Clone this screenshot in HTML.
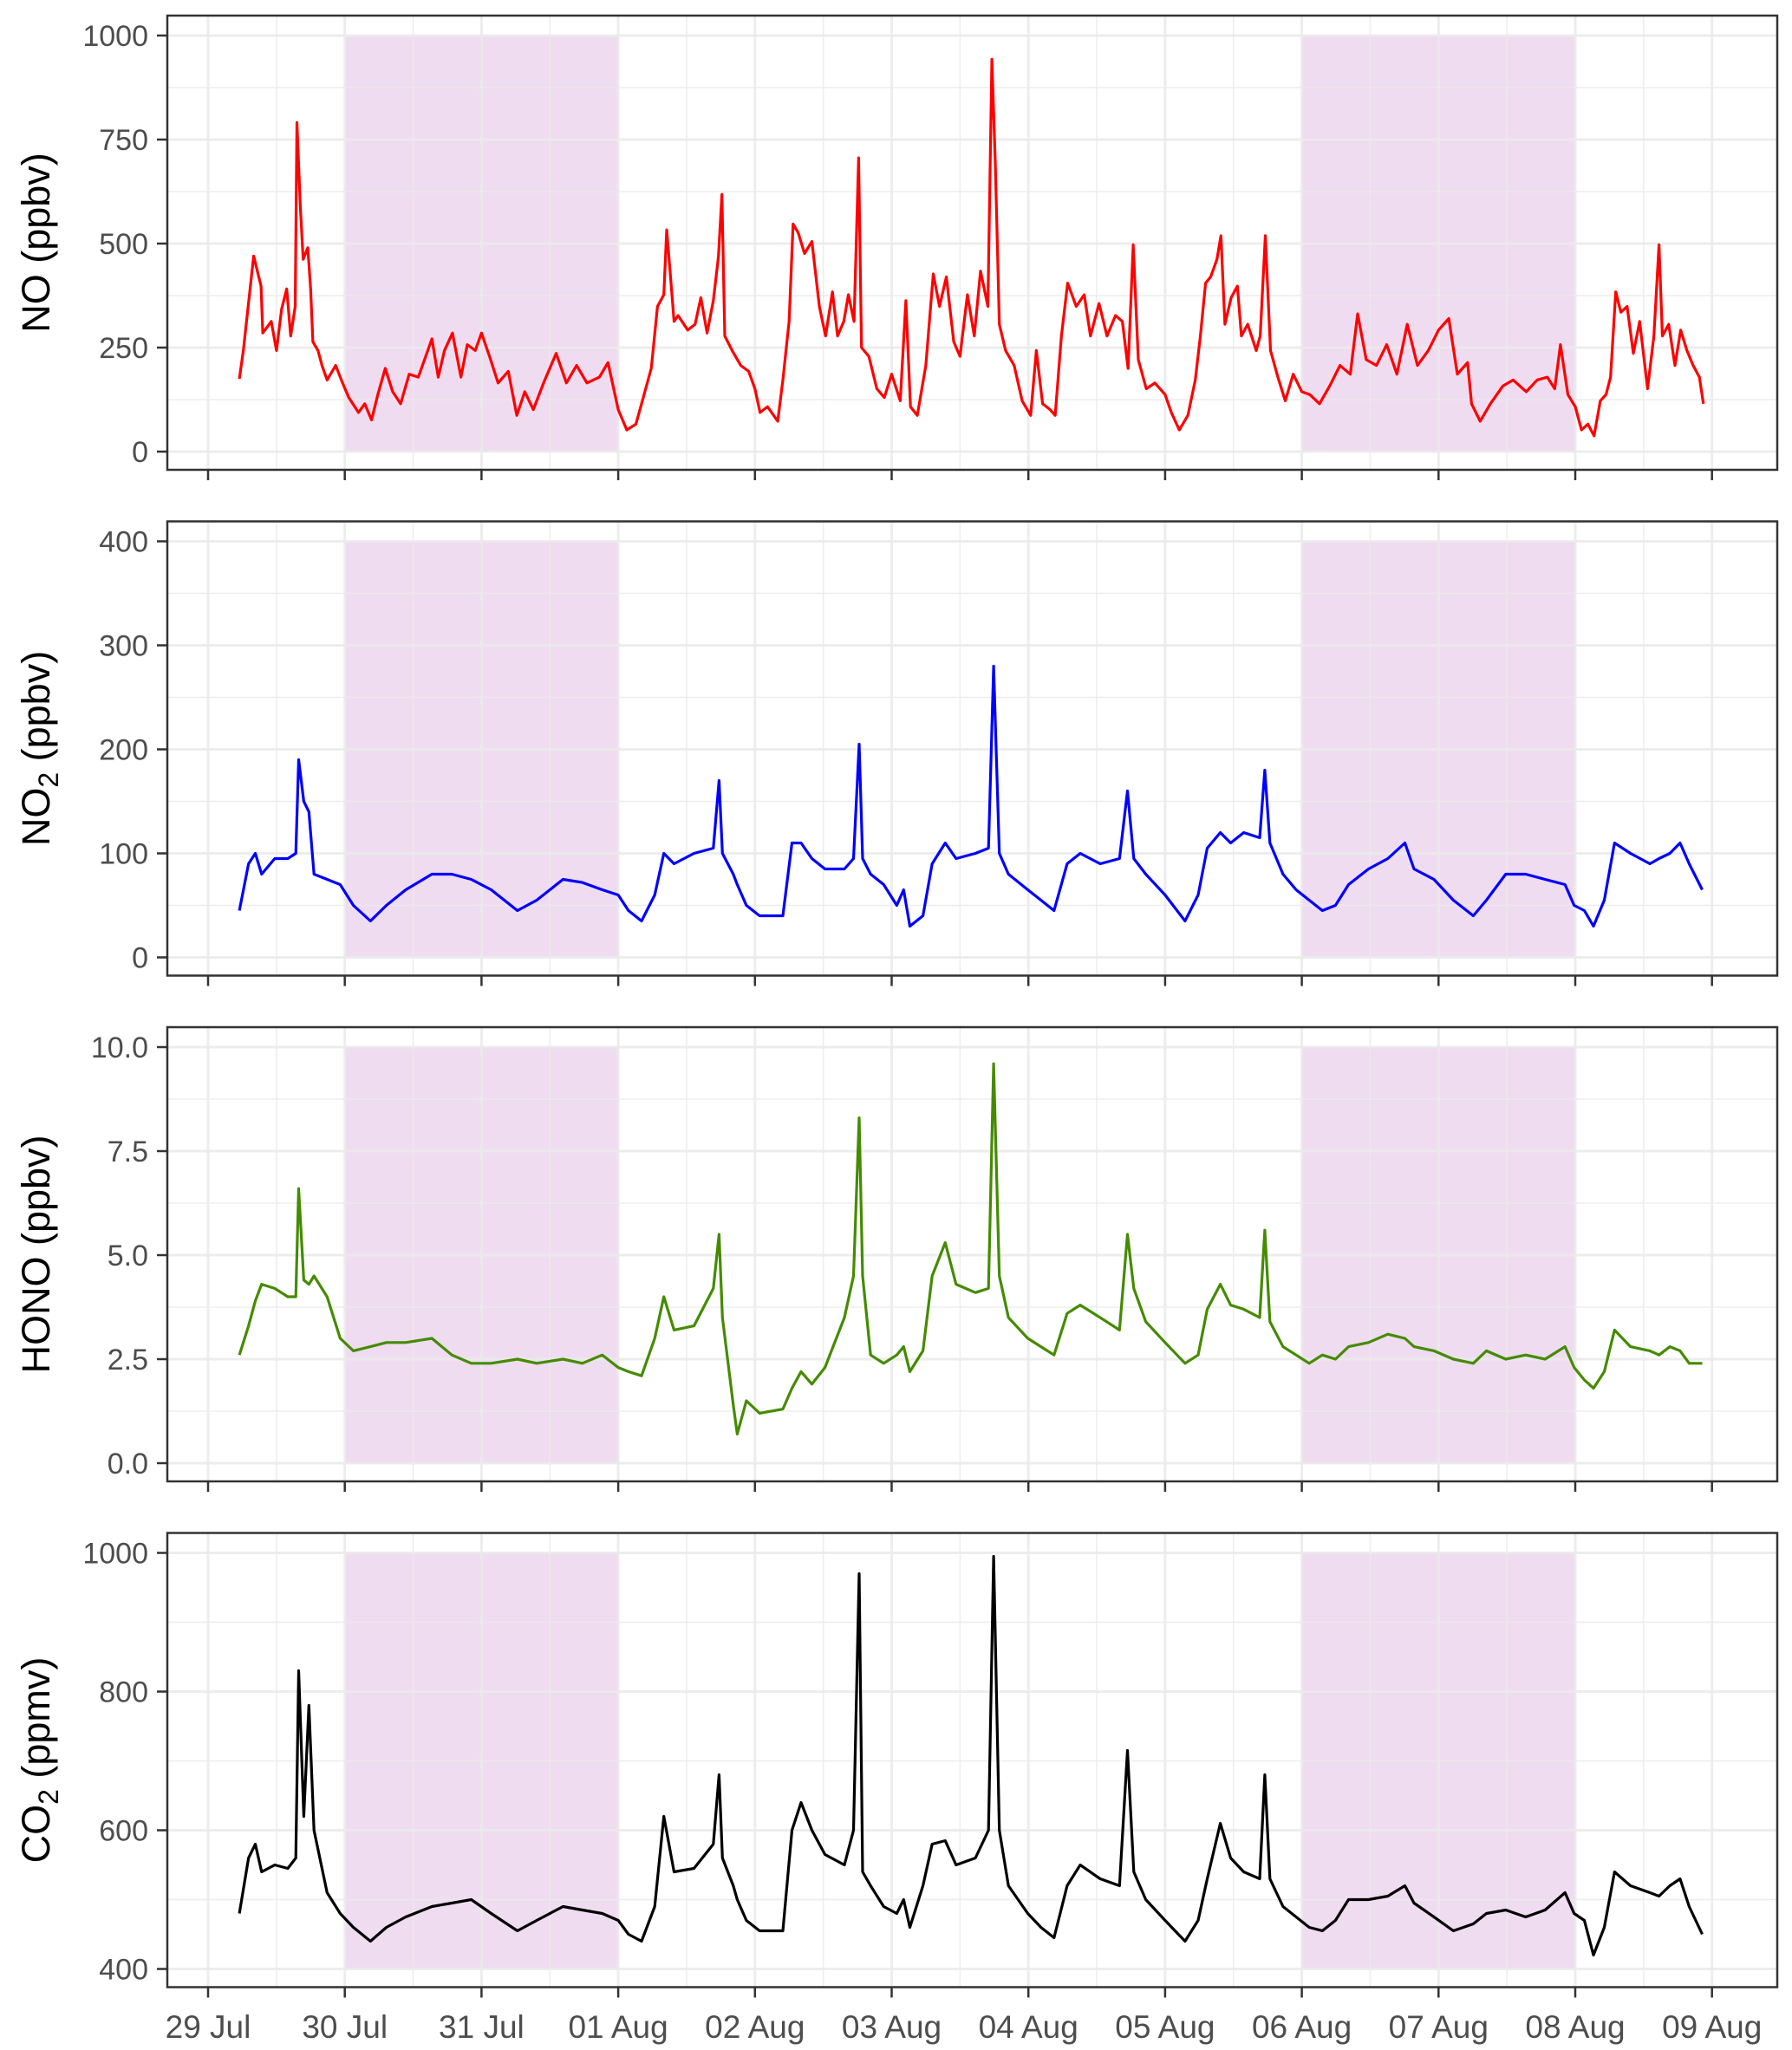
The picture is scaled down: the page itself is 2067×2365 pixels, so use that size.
<!DOCTYPE html>
<html><head><meta charset="utf-8"><style>
html,body{margin:0;padding:0;background:#fff;}
svg{display:block;font-family:"Liberation Sans",Arial,sans-serif;}
</style></head><body>
<svg id="chart" width="2067" height="2365" viewBox="0 0 2067 2365" xmlns="http://www.w3.org/2000/svg"></svg>
<script>
// ---- data (hours since 29 Jul 00:00) ----
const dayLabels = ["29 Jul","30 Jul","31 Jul","01 Aug","02 Aug","03 Aug","04 Aug","05 Aug","06 Aug","07 Aug","08 Aug","09 Aug"];
const shadeStartHours = [24, 192];
const shadeEndHours = [72, 240];

const noHours = [5.5,6.2,8.0,9.3,9.6,11.1,12.0,12.9,13.8,14.5,15.3,15.6,16.2,16.7,17.5,18.0,18.4,19.3,20.0,20.9,22.4,23.6,24.7,26.4,27.5,28.7,29.8,31.1,32.4,33.8,35.3,36.9,39.3,40.4,41.5,42.9,44.4,45.5,46.9,48.0,49.6,50.9,52.7,54.2,55.6,57.1,58.9,61.1,62.9,64.7,66.5,68.7,70.2,72.0,73.5,75.1,76.4,77.8,78.9,80.0,80.5,81.1,81.8,82.5,84.2,85.5,86.5,87.6,88.7,89.6,90.2,90.7,92.0,93.5,94.9,96.0,96.9,98.2,100.0,100.9,102.0,102.7,103.6,104.7,106.0,107.3,108.4,109.6,110.5,111.6,112.4,113.4,114.2,114.7,116.0,117.4,118.7,120.0,121.5,122.5,123.3,124.5,126.0,127.3,128.4,129.6,130.9,132.0,133.3,134.5,135.6,136.9,137.6,138.2,138.9,140.0,141.5,142.9,144.4,145.4,146.5,147.8,148.7,149.8,150.9,152.4,153.8,154.9,156.4,157.8,159.3,160.5,161.5,162.4,163.3,164.7,166.2,168.0,169.1,170.5,172.0,173.3,174.2,175.1,176.0,177.1,177.8,178.5,179.6,180.7,181.4,182.5,184.0,184.7,185.6,186.5,187.8,189.1,190.5,192.0,193.4,195.1,196.9,198.7,200.5,201.8,203.3,205.1,206.9,208.7,210.5,212.3,214.2,216.0,217.8,219.3,221.1,221.8,223.3,225.1,227.3,229.1,231.4,233.3,235.1,236.4,237.4,238.7,240.0,241.1,242.2,243.3,244.4,245.4,246.2,247.1,248.0,249.1,250.2,251.3,252.7,253.8,254.7,255.3,256.4,257.5,258.5,259.6,260.7,261.8,262.5];
const noValues = [175,243,470,398,285,313,243,342,391,278,349,791,590,462,490,391,264,243,207,172,207,165,130,94,115,76,137,200,144,115,186,179,271,179,243,285,179,257,243,285,221,165,193,87,144,101,165,236,165,207,165,179,214,101,52,66,130,200,349,377,533,434,313,327,292,306,370,285,363,469,618,278,243,207,193,151,94,108,73,172,313,547,526,476,505,349,278,384,278,313,377,313,706,250,229,151,130,186,122,363,108,87,207,427,349,420,264,229,377,278,434,349,943,689,306,243,207,122,87,243,115,101,87,278,405,349,377,278,356,278,327,313,200,497,221,151,165,137,94,52,87,172,278,405,420,462,519,306,370,398,278,306,243,278,519,243,179,122,186,144,137,115,158,207,186,331,221,207,257,186,306,207,243,292,320,186,214,115,73,115,158,172,144,172,179,151,257,137,108,52,66,38,122,137,179,384,335,349,236,313,151,278,497,278,306,207,292,243,207,179,115];

const gasHours = [5.5,7.1,8.3,9.4,11.7,14.0,15.4,15.9,16.8,17.7,18.6,20.9,23.2,25.5,28.5,31.3,34.7,39.3,42.8,46.2,49.7,54.3,57.7,62.3,65.7,69.2,72.0,73.8,76.1,78.4,80.0,81.8,85.3,88.7,89.7,90.3,92.2,92.9,94.5,96.8,100.9,102.5,104.1,106.0,108.3,111.7,113.3,114.3,114.9,116.3,118.6,120.9,122.1,123.2,125.5,127.1,129.4,131.3,134.7,137.0,137.9,138.9,140.5,143.9,146.2,148.5,150.8,153.1,156.6,160.0,161.4,162.5,164.6,168.0,171.5,173.8,175.4,177.7,179.5,181.8,184.6,185.5,186.4,188.7,191.0,193.3,195.6,197.9,200.2,203.7,207.1,210.1,211.7,215.2,218.6,222.1,224.4,227.8,231.3,234.7,238.2,239.8,241.6,243.2,245.1,246.9,249.7,253.1,254.7,256.6,258.4,260.0,262.3];
const no2Values = [45,90,100,80,95,95,100,190,150,140,80,75,70,50,35,50,65,80,80,75,65,45,55,75,72,65,60,45,35,60,100,90,100,105,170,100,80,70,50,40,40,110,110,95,85,85,95,205,95,80,70,50,65,30,40,90,110,95,100,105,280,100,80,65,55,45,90,100,90,95,160,95,80,60,35,60,105,120,110,120,115,180,110,80,65,55,45,50,70,85,95,110,85,75,55,40,55,80,80,75,70,50,45,30,55,110,100,90,95,100,110,90,65];
const honoValues = [2.6,3.3,3.9,4.3,4.2,4.0,4.0,6.6,4.4,4.3,4.5,4.0,3.0,2.7,2.8,2.9,2.9,3.0,2.6,2.4,2.4,2.5,2.4,2.5,2.4,2.6,2.3,2.2,2.1,3.0,4.0,3.2,3.3,4.2,5.5,3.5,1.4,0.7,1.5,1.2,1.3,1.8,2.2,1.9,2.3,3.5,4.5,8.3,4.5,2.6,2.4,2.6,2.8,2.2,2.7,4.5,5.3,4.3,4.1,4.2,9.6,4.5,3.5,3.0,2.8,2.6,3.6,3.8,3.5,3.2,5.5,4.2,3.4,2.9,2.4,2.6,3.7,4.3,3.8,3.7,3.5,5.6,3.4,2.8,2.6,2.4,2.6,2.5,2.8,2.9,3.1,3.0,2.8,2.7,2.5,2.4,2.7,2.5,2.6,2.5,2.8,2.3,2.0,1.8,2.2,3.2,2.8,2.7,2.6,2.8,2.7,2.4,2.4];
const co2Values = [480,560,580,540,550,545,560,830,620,780,600,510,480,460,440,460,475,490,495,500,480,455,470,490,485,480,470,450,440,490,620,540,545,580,680,560,520,500,470,455,455,600,640,600,565,550,600,970,540,520,490,480,500,460,520,580,585,550,560,600,995,600,520,480,460,445,520,550,530,520,715,540,500,470,440,470,530,610,560,540,530,680,530,490,475,460,455,470,500,500,505,520,495,475,455,465,480,485,475,485,510,480,470,420,460,540,520,510,505,520,530,490,450];

const noTicks = [0,250,500,750,1000];
const no2Ticks = [0,100,200,300,400];
const honoTicks = [0,2.5,5,7.5,10];
const honoTickLabels = ["0.0","2.5","5.0","7.5","10.0"];
const co2Ticks = [400,600,800,1000];

// ---- layout ----
const NS = "http://www.w3.org/2000/svg";
const svg = document.getElementById("chart");
const L = 193, R = 2050, X0 = 240, DAY = 157.7;
const xs = h => X0 + h / 24 * DAY;
function mk(tag, attrs, parent){ const e = document.createElementNS(NS, tag); for (const k in attrs) e.setAttribute(k, attrs[k]); (parent||svg).appendChild(e); return e; }

const panels = [
 {name:"no", times:noHours, vals:noValues, ticks:noTicks, labels:noTicks.map(String), min:0, max:1000, color:"#ff0000", title:["NO (ppbv)"]},
 {name:"no2", times:gasHours, vals:no2Values, ticks:no2Ticks, labels:no2Ticks.map(String), min:0, max:400, color:"#0000ff", title:["NO","2"," (ppbv)"]},
 {name:"hono", times:gasHours, vals:honoValues, ticks:honoTicks, labels:honoTickLabels, min:0, max:10, color:"#458b00", title:["HONO (ppbv)"]},
 {name:"co2", times:gasHours, vals:co2Values, ticks:co2Ticks, labels:co2Ticks.map(String), min:400, max:1000, color:"#000000", title:["CO","2"," (ppmv)"]}
];

panels.forEach((p, i) => {
  const top = 18 + 583.5 * i, bot = top + 524;
  const yT = top + 23, yB = top + 503;
  const ys = v => yB - (v - p.min) / (p.max - p.min) * (yB - yT);
  const g = mk("g", {});
  
  
  shadeStartHours.forEach((s, k) => {
    const r = mk("rect", {x: xs(s), y: yT, width: xs(shadeEndHours[k]) - xs(s), height: yB - yT, fill: "#f0dcf0"}, g);
    
    
  });
  for (let d = 0; d < 12; d++) {
    const x = xs(d * 24 - 12);
    if (x > L && x < R) mk("line", {x1:x, x2:x, y1:top, y2:bot, stroke:"#ebebeb", "stroke-width":1.5, opacity:0.85}, g);
  }
  for (let k = 0; k < p.ticks.length - 1; k++) {
    const y = ys((p.ticks[k] + p.ticks[k+1]) / 2);
    mk("line", {x1:L, x2:R, y1:y, y2:y, stroke:"#ebebeb", "stroke-width":1.5, opacity:0.85}, g);
  }
  dayLabels.forEach((_, d) => { const x = xs(d * 24); mk("line", {x1:x, x2:x, y1:top, y2:bot, stroke:"#ebebeb", "stroke-width":3, opacity:0.85}, g); });
  p.ticks.forEach(t => { const y = ys(t); mk("line", {x1:L, x2:R, y1:y, y2:y, stroke:"#ebebeb", "stroke-width":3, opacity:0.85}, g); });
  const d = p.times.map((t, k) => (k ? "L" : "M") + xs(t).toFixed(1) + "," + ys(p.vals[k]).toFixed(1)).join("");
  const path = mk("path", {d, fill:"none", stroke:p.color, "stroke-width":3.2, "stroke-linejoin":"round"}, g);
  
  
  mk("rect", {x:L, y:top, width:R - L, height:bot - top, fill:"none", stroke:"#333", "stroke-width":2.5}, g);
  p.ticks.forEach((t, k) => {
    const y = ys(t);
    mk("line", {x1:L - 12, x2:L, y1:y, y2:y, stroke:"#333", "stroke-width":2.5}, g);
    const tx = mk("text", {x:L - 22, y:y + 12, "text-anchor":"end", "font-size":34, fill:"#4d4d4d"}, g);
    tx.textContent = p.labels[k];
    
    
  });
  dayLabels.forEach((_, k) => { const x = xs(k * 24); mk("line", {x1:x, x2:x, y1:bot, y2:bot + 12, stroke:"#333", "stroke-width":2.5}, g); });
  const cy = (top + bot) / 2;
  const tt = mk("text", {x:0, y:0, "text-anchor":"middle", "font-size":45, fill:"#000", transform:`translate(57,${cy}) rotate(-90)`}, g);
  
  
  if (p.title.length === 1) tt.textContent = p.title[0];
  else {
    const a = mk("tspan", {}, tt); a.textContent = p.title[0];
    const b = mk("tspan", {dy:10, "font-size":32}, tt); b.textContent = p.title[1];
    const c = mk("tspan", {dy:-10}, tt); c.textContent = p.title[2];
  }
});

dayLabels.forEach((lab, k) => {
  const t = mk("text", {x: xs(k * 24), y: 2351, "text-anchor":"middle", "font-size":37, fill:"#4d4d4d"});
  t.textContent = lab;
  
  
});
</script>
</body></html>
